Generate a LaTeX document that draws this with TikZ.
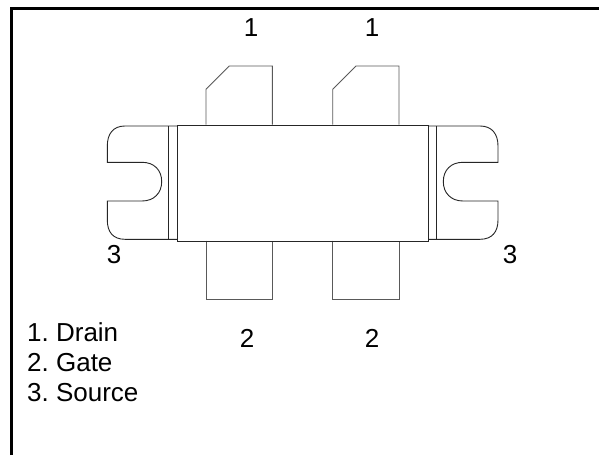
\documentclass[tikz,border=0pt]{standalone}
\usepackage{fontspec}
\setmainfont{Liberation Sans}
\frenchspacing
\tikzset{
  frameline/.style={line width=3.2pt,black},
  body/.style={line width=0.9pt,draw=black!85},
  lead/.style={line width=0.9pt,draw=black!65},
  lbl/.style={inner sep=0pt,font=\fontsize{26}{29}\selectfont,text=black},
  legendtext/.style={inner sep=0pt,anchor=base west,font=\fontsize{26}{29}\selectfont,text=black}
}
\begin{document}
\begin{tikzpicture}[x=1pt,y=-1pt]
\useasboundingbox (0,0) rectangle (599,455);
\fill[white] (0,0) rectangle (599,455);
% frame
\draw[frameline] (11.6,455) -- (11.6,8.5) -- (599,8.5);
% top leads
\draw[lead] (206,124.5) -- (206,89.3) -- (229.3,66) -- (272.3,66) -- (272.3,124.5);
\draw[lead] (332.7,124.5) -- (332.7,89.3) -- (356,66) -- (399,66) -- (399,124.5);
% bottom leads
\draw[lead] (206,240.7) -- (206,299.3) -- (272.3,299.3) -- (272.3,240.7);
\draw[lead] (332.7,240.7) -- (332.7,299.3) -- (399,299.3) -- (399,240.7);
% left flange
\draw[body] (177,126) -- (125,126) .. controls (113,126) and (107.3,134) .. (107.3,146) -- (107.3,162.3) -- (142,162.3)
  .. controls (154,162.3) and (161.7,170) .. (161.7,181.6) .. controls (161.7,193) and (154,201) .. (142,201)
  -- (107.3,201) -- (107.3,220) .. controls (107.3,232) and (113,239.3) .. (125,239.3) -- (177,239.3);
\draw[body] (168.3,126) -- (168.3,239.3);
% right flange
\draw[body] (428,126) -- (480,126) .. controls (492,126) and (498,134) .. (498,146) -- (498,162.3) -- (463,162.3)
  .. controls (451,162.3) and (443.3,170) .. (443.3,181.6) .. controls (443.3,193) and (451,201) .. (463,201)
  -- (498,201) -- (498,220) .. controls (498,232) and (492,239.3) .. (480,239.3) -- (428,239.3);
\draw[body] (436.3,126) -- (436.3,239.3);
% body
\node[body,draw,rectangle,minimum width=251pt,minimum height=116.2pt,inner sep=0pt,anchor=north west] (pkg) at (177,124.5) {};
% labels
\node[lbl] (d1) at (251,28) {1};
\node[lbl] (d2) at (372,28) {1};
\node[lbl] (s1) at (114,255) {3};
\node[lbl] (s2) at (510,255) {3};
\node[lbl] (g1) at (247,338) {2};
\node[lbl] (g2) at (372,338) {2};
\node[legendtext] (l1) at (27,341.5) {1. Drain};
\node[legendtext] (l2) at (27,371) {2. Gate};
\node[legendtext] (l3) at (27,401) {3. Source};
\end{tikzpicture}
\end{document}
